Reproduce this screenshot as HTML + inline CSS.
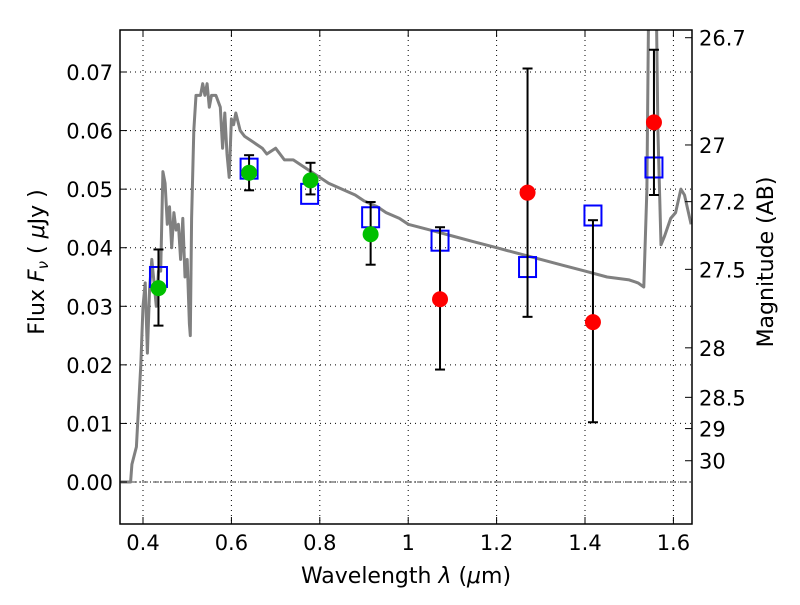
<!DOCTYPE html>
<html><head><meta charset="utf-8"><style>
body{margin:0;background:#fff}
svg text{font-family:"DejaVu Sans","Liberation Sans",sans-serif;font-size:21px;fill:#000}
svg text.title{font-size:22px}
</style></head><body>
<svg id="chart" width="800" height="600" xmlns="http://www.w3.org/2000/svg"></svg>
<script>
const specX=[0.35,0.372,0.375,0.385,0.395,0.40,0.405,0.41,0.415,0.42,0.43,0.435,0.44,0.445,0.45,0.455,0.46,0.465,0.47,0.475,0.48,0.485,0.49,0.495,0.50,0.505,0.507,0.51,0.515,0.52,0.53,0.535,0.54,0.545,0.55,0.555,0.565,0.575,0.58,0.585,0.59,0.595,0.60,0.605,0.61,0.62,0.63,0.65,0.67,0.68,0.70,0.72,0.74,0.76,0.78,0.80,0.82,0.85,0.88,0.90,0.93,0.95,0.98,1.0,1.05,1.1,1.15,1.2,1.25,1.3,1.35,1.4,1.45,1.5,1.52,1.533,1.54,1.545,1.55,1.56,1.565,1.572,1.58,1.594,1.605,1.617,1.625,1.64];
const specY=[0,0,0.003,0.006,0.02,0.030,0.034,0.022,0.033,0.038,0.030,0.036,0.036,0.053,0.051,0.044,0.047,0.040,0.046,0.043,0.044,0.038,0.045,0.035,0.038,0.027,0.025,0.045,0.060,0.066,0.066,0.068,0.066,0.068,0.064,0.066,0.066,0.064,0.057,0.063,0.056,0.052,0.062,0.061,0.063,0.060,0.059,0.058,0.057,0.056,0.057,0.055,0.055,0.054,0.053,0.052,0.051,0.050,0.049,0.048,0.047,0.046,0.045,0.044,0.043,0.042,0.041,0.040,0.039,0.038,0.037,0.036,0.035,0.0345,0.034,0.0333,0.05,0.09,0.09,0.09,0.06,0.0405,0.042,0.045,0.046,0.050,0.049,0.044];
const modelX=[0.435,0.64,0.777,0.915,1.072,1.27,1.418,1.556];
const modelY=[0.0350,0.0535,0.0492,0.0452,0.0412,0.0367,0.0455,0.0537];
const greenX=[0.435,0.64,0.779,0.915];
const greenY=[0.0331,0.0528,0.0515,0.0423];
const greenLo=[0.0267,0.0498,0.0491,0.0371];
const greenHi=[0.0397,0.0558,0.0545,0.0478];
const redX=[1.072,1.27,1.418,1.556];
const redY=[0.0312,0.0494,0.0273,0.0614];
const redLo=[0.0192,0.0282,0.0102,0.0490];
const redHi=[0.0435,0.0706,0.0447,0.0738];
const xTicks=[0.4,0.6,0.8,1,1.2,1.4,1.6];
const xTickLabels=["0.4","0.6","0.8","1","1.2","1.4","1.6"];
const yTicks=[0,0.01,0.02,0.03,0.04,0.05,0.06,0.07];
const yTickLabels=["0.00","0.01","0.02","0.03","0.04","0.05","0.06","0.07"];
const magTicks=[26.7,27,27.2,27.5,28,28.5,29,30];

const L=120,R=692,T=30,B=524;
const X=v=>143+(v-0.4)*442;
const Y=v=>482-v*5857;
const M=m=>Y(Math.pow(10,(23.9-m)/2.5));
const svg=document.getElementById('chart');
const NS='http://www.w3.org/2000/svg';
function mk(tag,attrs,parent){const e=document.createElementNS(NS,tag);for(const k in attrs)e.setAttribute(k,attrs[k]);(parent||svg).appendChild(e);return e;}

const defs=mk('defs',{});const cp=mk('clipPath',{id:'clip'},defs);mk('rect',{x:L,y:T,width:R-L,height:B-T},cp);

const grid=mk('g',{});


xTicks.forEach(t=>mk('line',{x1:X(t),x2:X(t),y1:T,y2:B,stroke:'#000','stroke-width':1,'stroke-dasharray':'1,4'},grid));
yTicks.forEach(t=>mk('line',{x1:L,x2:R,y1:Y(t),y2:Y(t),stroke:'#000','stroke-width':1,'stroke-dasharray':'1,4'},grid));
const zl=mk('line',{x1:L,x2:R,y1:Y(0),y2:Y(0),stroke:'#000','stroke-width':0.8,'stroke-dasharray':'6,2,1,2'});



const plot=mk('g',{'clip-path':'url(#clip)'});
const sp=mk('path',{d:specX.map((x,i)=>(i?'L':'M')+X(x).toFixed(1)+','+Y(specY[i]).toFixed(1)).join(''),fill:'none',stroke:'#808080','stroke-width':3,'stroke-linejoin':'round'},plot);



function errs(xs,ys,lo,hi,name){
  xs.forEach((x,i)=>{
    const g=mk('g',{},plot);
    
    
    const cx=X(x);
    mk('line',{x1:cx,x2:cx,y1:Y(lo[i]),y2:Y(hi[i]),stroke:'#000','stroke-width':2},g);
    mk('line',{x1:cx-5,x2:cx+5,y1:Y(lo[i]),y2:Y(lo[i]),stroke:'#000','stroke-width':2},g);
    mk('line',{x1:cx-5,x2:cx+5,y1:Y(hi[i]),y2:Y(hi[i]),stroke:'#000','stroke-width':2},g);
  });
}
modelX.forEach((x,i)=>{
  const r=mk('rect',{x:X(x)-8.5,y:Y(modelY[i])-10,width:17,height:20,fill:'none',stroke:'#0000ff','stroke-width':2},plot);
  
  
});
errs(greenX,greenY,greenLo,greenHi,'green-errorbar');
errs(redX,redY,redLo,redHi,'red-errorbar');
greenX.forEach((x,i)=>{
  const c=mk('circle',{cx:X(x),cy:Y(greenY[i]),r:8,fill:'#00c000'},plot);
  
  
});
redX.forEach((x,i)=>{
  const c=mk('circle',{cx:X(x),cy:Y(redY[i]),r:8,fill:'#ff0000'},plot);
  
  
});

const frame=mk('rect',{x:L,y:T,width:R-L,height:B-T,fill:'none',stroke:'#000','stroke-width':1.5});



xTicks.forEach((t,i)=>{
  mk('line',{x1:X(t),x2:X(t),y1:B,y2:B-7,stroke:'#000'});
  mk('line',{x1:X(t),x2:X(t),y1:T,y2:T+7,stroke:'#000'});
  const tx=mk('text',{x:X(t),y:B+26,'text-anchor':'middle'});tx.textContent=xTickLabels[i];
  
  
});
yTicks.forEach((t,i)=>{
  mk('line',{x1:L,x2:L+7,y1:Y(t),y2:Y(t),stroke:'#000'});
  const tx=mk('text',{x:L-7,y:Y(t)+8,'text-anchor':'end'});tx.textContent=yTickLabels[i];
  
  
});
magTicks.forEach(m=>{
  mk('line',{x1:R,x2:R-7,y1:M(m),y2:M(m),stroke:'#000'});
  const tx=mk('text',{x:R+7,y:M(m)+8,'text-anchor':'start'});tx.textContent=String(m);
  
  
});
const xt=mk('text',{x:406,y:583,'text-anchor':'middle','class':'title'});
xt.innerHTML='Wavelength  <tspan font-style="italic">λ</tspan> (<tspan font-style="italic">μ</tspan>m)';


const yt=mk('text',{x:0,y:0,'text-anchor':'middle','class':'title',transform:'translate(44,262) rotate(-90)'});
yt.innerHTML='Flux  <tspan font-style="italic">F</tspan><tspan font-style="italic" font-size="15" dy="4">ν</tspan><tspan dy="-4">  (  </tspan><tspan font-style="italic">μ</tspan>Jy )';


const rt=mk('text',{x:0,y:0,'text-anchor':'middle','class':'title',transform:'translate(773,262) rotate(-90)'});
rt.textContent='Magnitude (AB)';


</script>
</body></html>
